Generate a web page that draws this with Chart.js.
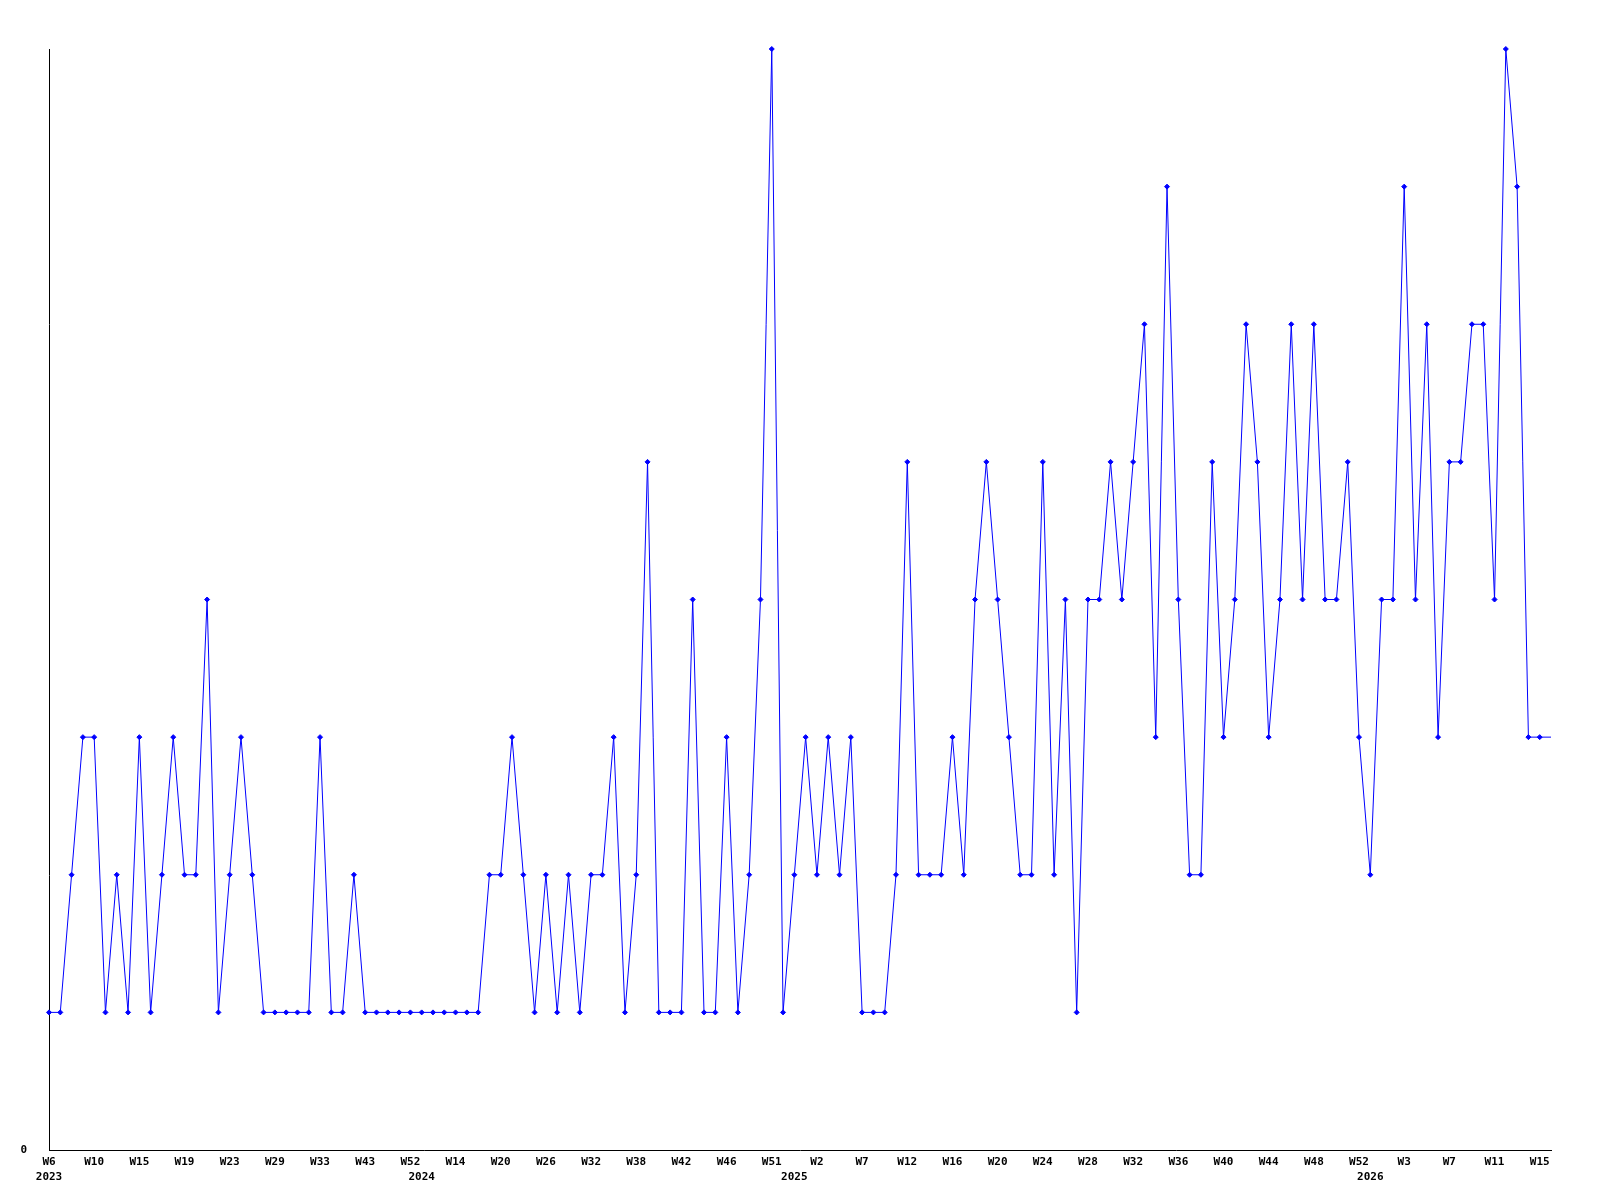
<!DOCTYPE html>
<html>
<head>
<meta charset="utf-8">
<title>Weekly chart</title>
<script src="https://cdn.jsdelivr.net/npm/chart.js@4.4.1/dist/chart.umd.min.js"></script>
<style>
    html, body {
        margin: 0;
        padding: 0;
        background: #ffffff;
    }
    #wrap {
        width: 1600px;
        height: 1200px;
    }
</style>
</head>
<body>
<div id="wrap"><canvas id="weekChart" width="1600" height="1200"></canvas></div>
<script>
// one value per week shown, left to right
const values = [
    1, 1, 2, 3, 3, 1, 2, 1, 3, 1, 2, 3, 2, 2, 4, 1, 2, 3, 2, 1,
    1, 1, 1, 1, 3, 1, 1, 2, 1, 1, 1, 1, 1, 1, 1, 1, 1, 1, 1, 2,
    2, 3, 2, 1, 2, 1, 2, 1, 2, 2, 3, 1, 2, 5, 1, 1, 1, 4, 1, 1,
    3, 1, 2, 4, 8, 1, 2, 3, 2, 3, 2, 3, 1, 1, 1, 2, 5, 2, 2, 2,
    3, 2, 4, 5, 4, 3, 2, 2, 5, 2, 4, 1, 4, 4, 5, 4, 5, 6, 3, 7,
    4, 2, 2, 5, 3, 4, 6, 5, 3, 4, 6, 4, 6, 4, 4, 5, 3, 2, 4, 4,
    7, 4, 6, 3, 5, 5, 6, 6, 4, 8, 7, 3, 3, 3
];

// a week label every 4th point
const weekLabels = [
    "W6", "W10", "W15", "W19", "W23", "W29", "W33", "W43", "W52",
    "W14", "W20", "W26", "W32", "W38", "W42", "W46", "W51",
    "W2", "W7", "W12", "W16", "W20", "W24", "W28", "W32", "W36", "W40", "W44", "W48", "W52",
    "W3", "W7", "W11", "W15"
];
const labelStep = 4;

const yearLabels = ["2023", "2024", "2025", "2026"];
const yearStarts = [0, 33, 66, 117];

const yMin = 0;
const yMax = 8;

const labels = values.map((v, i) => {
    const week = i % labelStep === 0 ? (weekLabels[i / labelStep] || "") : "";
    const y = yearStarts.indexOf(i);
    const year = y >= 0 ? yearLabels[y] : "";
    if (year) {
        return [week, year];
    }
    return week;
});

const tickFont = {
    family: "'DejaVu Sans Mono', monospace",
    size: 11,
    weight: "bold",
    lineHeight: 1.35,
};

// the current (last) week has no marker, only the line
const lastIndex = values.length - 1;

const chart = new Chart(document.getElementById("weekChart"), {
    type: "line",
    data: {
        labels,
        datasets: [
            {
                data: values,
                borderColor: "#0000ff",
                backgroundColor: "#0000ff",
                borderWidth: 1,
                pointStyle: "rectRot",
                pointRadius: (ctx) => (ctx.dataIndex === lastIndex ? 0 : 2.5),
                pointBorderWidth: 1,
                pointHoverRadius: 2.5,
                tension: 0,
                fill: false,
                clip: false,
            },
        ],
    },
    options: {
        responsive: false,
        animation: false,
        events: [],
        layout: {
            padding: { top: 49, right: 49, left: 0, bottom: 0 },
        },
        plugins: {
            legend: { display: false },
            tooltip: { enabled: false },
            title: { display: false },
        },
        scales: {
            x: {
                type: "category",
                offset: false,
                grid: { display: false, drawTicks: false },
                border: { color: "#000000", width: 1 },
                ticks: {
                    autoSkip: false,
                    maxRotation: 0,
                    minRotation: 0,
                    padding: 5,
                    color: "#000000",
                    font: tickFont,
                },
                afterFit: (scale) => {
                    scale.height = 50;
                },
            },
            y: {
                min: yMin,
                max: yMax,
                grid: { display: false, drawTicks: false },
                border: { color: "#000000", width: 1 },
                afterBuildTicks: (axis) => {
                    axis.ticks = [{ value: yMin }];
                },
                ticks: {
                    padding: 22,
                    color: "#000000",
                    font: tickFont,
                },
                afterFit: (scale) => {
                    scale.width = 49;
                },
            },
        },
    },
});
</script>
</body>
</html>
